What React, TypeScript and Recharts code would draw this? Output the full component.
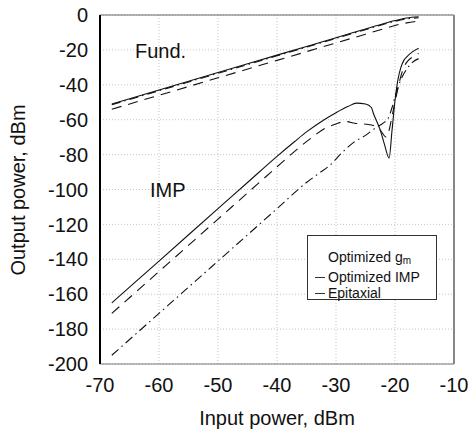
import React from "react";
import { LineChart, Line, XAxis, YAxis, CartesianGrid, ReferenceLine } from "recharts";

const xTicks = [-70, -60, -50, -40, -30, -20, -10];
const yTicks = [0, -20, -40, -60, -80, -100, -120, -140, -160, -180, -200];

// fundamental output
const fundX = [-68, -60, -50, -40, -30, -25, -22, -20, -18, -16];
const fundGm = [-51, -43, -33, -23, -13, -8, -5, -3.2, -1.7, -1];
const fundImp = [-54, -46, -36, -26, -16, -11, -8, -6, -4.5, -3.5];
const fundEpi = [-51.4, -43.4, -33.4, -23.4, -13.4, -8.4, -5.4, -3.6, -2.2, -1.6];

// intermodulation products
const impGmX = [-68, -60, -50, -45, -40, -37, -35, -32, -30, -28, -26.5, -25, -24, -23.7, -22.5, -21.8, -21, -20.5, -20, -19.5, -19, -18.5, -18, -17, -16];
const impGmY = [-165, -141, -111, -96, -81, -72.5, -67, -60, -56, -52.5, -50.5, -51, -53, -56, -66, -74, -82, -66, -49, -37, -30, -26, -24, -21, -19];

const impOptX = [-68, -60, -50, -45, -40, -37.3, -34.4, -31.6, -30, -28.5, -26.8, -24, -22.5, -21.5, -21, -20.5, -20, -19.5, -19, -18.5, -18, -17, -16];
const impOptY = [-171, -147, -117, -102, -87, -79, -71, -64.5, -62.5, -61, -62, -63, -66, -70, -66, -58, -50, -42, -35, -30, -27, -24, -22];

const impEpiX = [-68, -60, -50, -45, -40, -35, -33, -31, -29, -27, -25, -23, -22, -21, -20.5, -20, -19, -18, -17, -16];
const impEpiY = [-195, -171, -141, -126, -111, -96, -91, -86, -79, -73, -69, -64, -62, -58, -53, -47, -37, -31, -27, -25];

const pts = (xs: number[], ys: number[]) => xs.map((x, i) => ({ x, y: ys[i] }));

const FONT = "'Liberation Sans', Arial, Helvetica, sans-serif";
const SOLID = "";
const DASH = "10 7";
const DASHDOT = "9 4 1.5 4";

const series = [
  { id: "fg", data: pts(fundX, fundGm), dash: SOLID },
  { id: "fi", data: pts(fundX, fundImp), dash: DASH },
  { id: "fe", data: pts(fundX, fundEpi), dash: DASHDOT },
  { id: "ig", data: pts(impGmX, impGmY), dash: SOLID },
  { id: "ii", data: pts(impOptX, impOptY), dash: DASH },
  { id: "ie", data: pts(impEpiX, impEpiY), dash: DASHDOT },
];

const tickStyle = { fill: "#111", fontSize: 20, fontFamily: FONT };

export default function App() {
  return (
    <div style={{ position: "absolute", left: 0, top: 0, width: 471, height: 434, background: "#fff", fontFamily: FONT }}>
      <LineChart width={471} height={434} margin={{ top: 15, right: 17, bottom: 0, left: 0 }}>
        <CartesianGrid stroke="#b8b8b8" strokeDasharray="1 2" strokeWidth={0.8} />
        <XAxis
          dataKey="x"
          type="number"
          domain={[-70, -10]}
          ticks={xTicks}
          height={70}
          allowDuplicatedCategory={false}
          axisLine={{ stroke: "#777", strokeWidth: 1 }}
          tickLine={false}
          tickSize={6}
          tickMargin={8}
          tick={tickStyle}
        />
        <YAxis
          dataKey="y"
          type="number"
          domain={[-200, 0]}
          ticks={yTicks}
          width={100}
          axisLine={{ stroke: "#000", strokeWidth: 2 }}
          tickLine={false}
          tickSize={6}
          tickMargin={6}
          tick={tickStyle}
        />
        <ReferenceLine y={0} stroke="#666" strokeWidth={1} />
        <ReferenceLine x={-10} stroke="#888" strokeWidth={2} />
        {series.map((s) => (
          <Line
            key={s.id}
            data={s.data}
            dataKey="y"
            type="monotone"
            stroke="#111"
            strokeWidth={1.1}
            strokeDasharray={s.dash || undefined}
            dot={false}
            isAnimationActive={false}
          />
        ))}
      </LineChart>

      <div style={{ position: "absolute", left: 135, top: 40, fontSize: 20, color: "#111" }}>Fund.</div>
      <div style={{ position: "absolute", left: 150, top: 179, fontSize: 20, color: "#111" }}>IMP</div>

      <div
        style={{
          position: "absolute",
          left: 18,
          top: 190,
          fontSize: 20,
          color: "#111",
          whiteSpace: "nowrap",
          transform: "translate(-50%, -50%) rotate(-90deg)",
        }}
      >
        Output power, dBm
      </div>
      <div
        style={{
          position: "absolute",
          left: 277,
          top: 418,
          fontSize: 20,
          color: "#111",
          whiteSpace: "nowrap",
          transform: "translate(-50%, -50%)",
        }}
      >
        Input power, dBm
      </div>

      <div
        style={{
          position: "absolute",
          left: 307,
          top: 235,
          width: 130,
          height: 65,
          border: "1px solid #333",
          background: "#fff",
          fontSize: 14,
          lineHeight: "16px",
          color: "#111",
          boxSizing: "border-box",
          paddingTop: 13,
        }}
      >
        <div style={{ position: "relative", paddingLeft: 20 }}>
          Optimized g<span style={{ fontSize: 10, verticalAlign: "-2px" }}>m</span>
        </div>
        <div style={{ position: "relative", paddingLeft: 20 }}>
          <span style={{ position: "absolute", left: 7, top: 8, width: 10, borderTop: "1px solid #333" }} />
          Optimized IMP
        </div>
        <div style={{ position: "relative", paddingLeft: 20 }}>
          <span style={{ position: "absolute", left: 7, top: 8, width: 10, borderTop: "1px solid #333" }} />
          Epitaxial
        </div>
      </div>
    </div>
  );
}
